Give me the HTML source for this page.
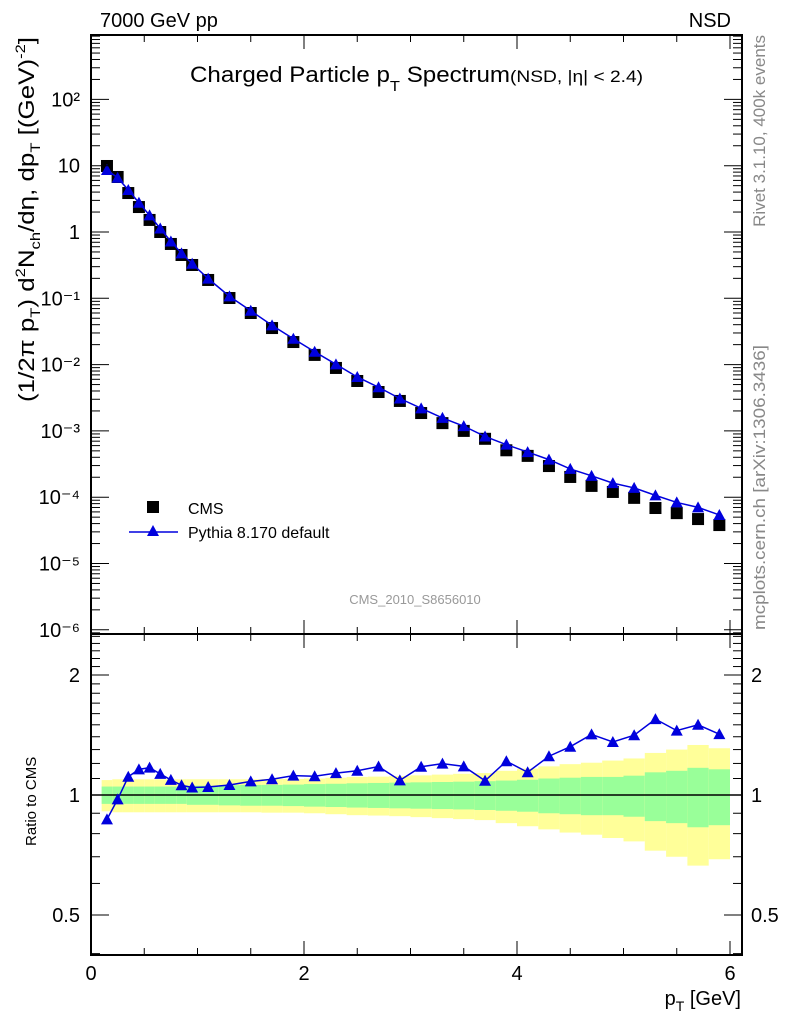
<!DOCTYPE html>
<html><head><meta charset="utf-8"><style>
html,body{margin:0;padding:0;background:#fff}
svg{display:block;font-family:"Liberation Sans",sans-serif}
</style></head><body>
<svg id="c" width="786" height="1024" viewBox="0 0 786 1024">
<g id="bands"></g><g id="grid"></g><g id="marks"></g><g id="axes"></g>
<text x="100" y="27" font-size="20">7000 GeV pp</text>
<text x="731" y="27" font-size="20" text-anchor="end">NSD</text>
<text x="190" y="82" font-size="22" textLength="320" lengthAdjust="spacingAndGlyphs">Charged Particle p<tspan font-size="15" dy="9">T</tspan><tspan dy="-9"> Spectrum</tspan></text>
<text x="510" y="82" font-size="17" textLength="133" lengthAdjust="spacingAndGlyphs">(NSD, |η| &lt; 2.4)</text>
<text transform="translate(765,35) rotate(-90)" font-size="17" fill="#888" text-anchor="end">Rivet 3.1.10,  400k events</text>
<text transform="translate(765,630) rotate(-90)" font-size="17" fill="#888" textLength="285" lengthAdjust="spacingAndGlyphs">mcplots.cern.ch [arXiv:1306.3436]</text>
<text x="415" y="604" font-size="13" fill="#999" text-anchor="middle">CMS_2010_S8656010</text>
<text transform="translate(34,402) rotate(-90)" font-size="22" textLength="365" lengthAdjust="spacingAndGlyphs">(1/2π p<tspan font-size="14" dy="6">T</tspan><tspan dy="-6">) d</tspan><tspan font-size="14" dy="-9">2</tspan><tspan dy="9">N</tspan><tspan font-size="14" dy="6">ch</tspan><tspan dy="-6">/dη, dp</tspan><tspan font-size="14" dy="6">T</tspan><tspan dy="-6"> [(GeV)</tspan><tspan font-size="14" dy="-9">-2</tspan><tspan dy="9">]</tspan></text>
<text transform="translate(36,846) rotate(-90)" font-size="15">Ratio to CMS</text>
<text x="741" y="1005" font-size="20" text-anchor="end">p<tspan font-size="14" dy="6">T</tspan><tspan dy="-6"> [GeV]</tspan></text>
<g>
<rect x="147" y="501" width="12" height="12" fill="#000"/>
<text x="188" y="514" font-size="16">CMS</text>
<line x1="129" y1="532" x2="178" y2="532" stroke="#0000dd" stroke-width="1.5"/>
<polygon points="153,525 147,536 159,536" fill="#0000dd"/>
<text x="188" y="538" font-size="16">Pythia 8.170 default</text>
</g>
</svg>
<script>
const pt=[0.15,0.25,0.35,0.45,0.55,0.65,0.75,0.85,0.95,1.1,1.3,1.5,1.7,1.9,2.1,2.3,2.5,2.7,2.9,3.1,3.3,3.5,3.7,3.9,4.1,4.3,4.5,4.7,4.9,5.1,5.3,5.5,5.7,5.9];
const binLo=[0.1,0.2,0.3,0.4,0.5,0.6,0.7,0.8,0.9,1.0,1.2,1.4,1.6,1.8,2.0,2.2,2.4,2.6,2.8,3.0,3.2,3.4,3.6,3.8,4.0,4.2,4.4,4.6,4.8,5.0,5.2,5.4,5.6,5.8];
const binHi=[0.2,0.3,0.4,0.5,0.6,0.7,0.8,0.9,1.0,1.2,1.4,1.6,1.8,2.0,2.2,2.4,2.6,2.8,3.0,3.2,3.4,3.6,3.8,4.0,4.2,4.4,4.6,4.8,5.0,5.2,5.4,5.6,5.8,6.0];
const cms=[9.9,6.76,3.87,2.38,1.52,1.0,0.66,0.45,0.318,0.189,0.101,0.06,0.0356,0.0219,0.014,0.0089,0.00566,0.00386,0.00283,0.00186,0.00131,0.001,0.00076,0.00051,0.00042,0.000295,0.000202,0.000148,0.00012,0.0000977,0.0000687,0.0000575,0.0000468,0.000038];
const pythia=[8.6,6.59,4.30,2.76,1.78,1.13,0.72,0.476,0.332,0.198,0.107,0.0649,0.039,0.0245,0.0156,0.0101,0.00651,0.00455,0.00308,0.00219,0.00157,0.00118,0.000825,0.00062,0.000479,0.000369,0.000267,0.00021,0.000163,0.000138,0.0001065,0.0000834,0.0000702,0.000054];
const errTot=[0.09,0.095,0.095,0.095,0.095,0.095,0.095,0.095,0.095,0.095,0.095,0.095,0.097,0.097,0.10,0.105,0.11,0.112,0.115,0.12,0.125,0.13,0.135,0.15,0.165,0.18,0.195,0.205,0.22,0.235,0.275,0.30,0.335,0.31];
const errStat=[0.05,0.05,0.05,0.05,0.05,0.05,0.05,0.05,0.055,0.055,0.058,0.06,0.06,0.062,0.065,0.067,0.07,0.072,0.074,0.076,0.078,0.08,0.083,0.087,0.092,0.10,0.105,0.11,0.11,0.118,0.14,0.15,0.17,0.16];
const NS="http://www.w3.org/2000/svg";
const X0=91,X1=742,TOP=35,MID=634,BOT=955;
const xs=v=>X0+v*106.5;
const ys=v=>232-66.3*Math.log10(v);
const yr=r=>795-120*Math.log2(r);
function mk(t,a,p){const e=document.createElementNS(NS,t);for(const k in a)e.setAttribute(k,a[k]);document.getElementById(p).appendChild(e);return e;}
for(let i=0;i<pt.length;i++){
 const x=xs(binLo[i]),w=xs(binHi[i])-x;
 let e=mk('rect',{x:x,y:yr(1+errTot[i]),width:w,height:yr(1-errTot[i])-yr(1+errTot[i]),fill:'#ffff99'},'bands');
 
 
 e=mk('rect',{x:x,y:yr(1+errStat[i]),width:w,height:yr(1-errStat[i])-yr(1+errStat[i]),fill:'#99ff99'},'bands');
 
 
}
let l=mk('line',{x1:X0,x2:X1,y1:yr(1),y2:yr(1),stroke:'#000','stroke-width':1.5},'marks');


for(let i=0;i<pt.length;i++){
 const r=mk('rect',{x:xs(pt[i])-6,y:ys(cms[i])-6,width:12,height:12,fill:'#000'},'marks');
 
 
}
let d='';pt.forEach((p,i)=>{d+=(i?'L':'M')+xs(p)+','+ys(pythia[i]);});
let pl=mk('path',{d:d,fill:'none',stroke:'#0000dd','stroke-width':1.5},'marks');


let d2='';pt.forEach((p,i)=>{d2+=(i?'L':'M')+xs(p)+','+yr(pythia[i]/cms[i]);});
pl=mk('path',{d:d2,fill:'none',stroke:'#0000dd','stroke-width':1.5},'marks');


for(let i=0;i<pt.length;i++){
 const x=xs(pt[i]);let y=ys(pythia[i]);
 let t=mk('polygon',{points:`${x},${y-6} ${x-6},${y+5} ${x+6},${y+5}`,fill:'#0000dd'},'marks');
 
 
 y=yr(pythia[i]/cms[i]);
 t=mk('polygon',{points:`${x},${y-6} ${x-6},${y+5} ${x+6},${y+5}`,fill:'#0000dd'},'marks');
 
 
}
for(const [y1,y2,n] of [[TOP,MID,'main-frame'],[MID,BOT,'ratio-frame']]){
 const f=mk('rect',{x:X0,y:y1,width:X1-X0,height:y2-y1,fill:'none',stroke:'#000','stroke-width':2},'axes');
 
 
}
for(let k=0;k<=12;k++){
 const v=k*0.5,x=xs(v),L=(k%4==0)?14:7;
 for(const [yb,dir] of [[TOP,1],[MID,-1],[MID,1],[BOT,-1]]) mk('line',{x1:x,x2:x,y1:yb,y2:yb+dir*L,stroke:'#000','stroke-width':1},'axes');
 if(k%4==0){const t=mk('text',{x:x,y:980,'font-size':20,'text-anchor':'middle'},'axes');t.textContent=String(v);
 
 }
}
const decades=[-6,-5,-4,-3,-2,-1,0,1,2];
const decLabels=['10⁻⁶','10⁻⁵','10⁻⁴','10⁻³','10⁻²','10⁻¹','1','10','10²'];
for(let e=-7;e<=2;e++)for(let m=1;m<10;m++){
 const v=m*Math.pow(10,e),y=ys(v);if(y<TOP||y>MID)continue;
 const L=m==1?18:9;
 mk('line',{x1:X0,x2:X0+L,y1:y,y2:y,stroke:'#000'},'axes');
 mk('line',{x1:X1,x2:X1-L,y1:y,y2:y,stroke:'#000'},'axes');
}
decades.forEach((e,i)=>{
 const t=mk('text',{x:80,y:ys(Math.pow(10,e))+7,'font-size':20,'text-anchor':'end'},'axes');
 t.textContent=decLabels[i];
 
 
});
const rt=[0.4,0.5,0.6,0.7,0.8,0.9,1,1.1,1.2,1.3,1.4,1.5,1.6,1.7,1.8,1.9,2,2.1,2.2,2.3,2.4,2.5];
rt.forEach(v=>{const y=yr(v);if(y<MID||y>BOT)return;const L=(v==0.5||v==1||v==2)?18:9;
 mk('line',{x1:X0,x2:X0+L,y1:y,y2:y,stroke:'#000'},'axes');
 mk('line',{x1:X1,x2:X1-L,y1:y,y2:y,stroke:'#000'},'axes');});
const rl=[0.5,1,2];
rl.forEach(v=>{for(const [x,a] of [[80,'end'],[751,'start']]){
 const t=mk('text',{x:x,y:yr(v)+7,'font-size':20,'text-anchor':a},'axes');t.textContent=String(v);
 
 }});
</script>
</body></html>
